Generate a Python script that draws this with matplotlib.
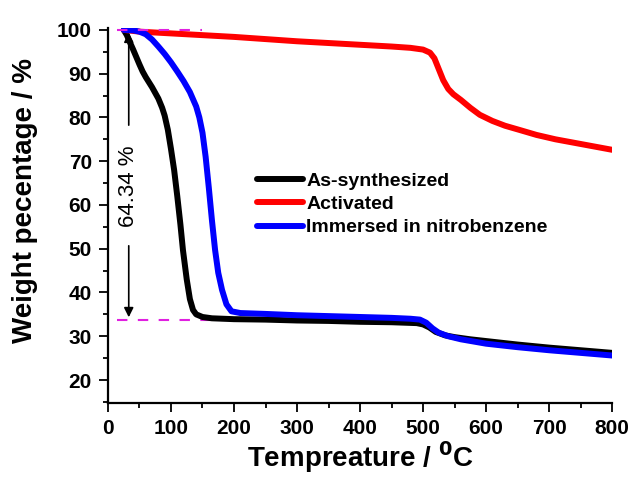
import matplotlib
matplotlib.use("Agg")
import matplotlib.pyplot as plt
from matplotlib.ticker import MultipleLocator

plt.rcParams["font.family"] = ["Liberation Sans", "DejaVu Sans"]
plt.rcParams["font.weight"] = "bold"

# As-synthesized
temp_as = [25, 30, 35, 40, 45, 50, 55, 60, 70, 80, 86, 90, 95, 100, 105, 110, 115, 119,
           125, 130, 135, 140, 150, 165, 200, 250, 300, 350, 400, 450, 490, 500, 510,
           520, 535, 550, 575, 600, 650, 700, 750, 800]
wt_as = [100, 98.8, 97.1, 95.5, 93.8, 92.1, 90.5, 89.2, 86.9, 84.3, 82.2, 80.4, 77.2, 72.8,
         68.0, 62.0, 55.5, 49.7, 43.0, 38.5, 36.0, 35.0, 34.4, 34.1, 33.9, 33.8, 33.6, 33.5,
         33.3, 33.2, 33.0, 32.7, 32.0, 31.0, 30.2, 29.8, 29.3, 28.9, 28.1, 27.4, 26.8, 26.2]

# Activated
temp_act = [25, 50, 100, 150, 200, 250, 300, 350, 400, 450, 480, 500, 511, 518, 525, 532,
            540, 548, 560, 575, 590, 610, 630, 654, 680, 710, 740, 770, 800]
wt_act = [100, 99.6, 99.2, 98.8, 98.4, 97.9, 97.4, 97.0, 96.6, 96.2, 95.9, 95.5, 94.8, 93.5,
          91.0, 88.5, 86.5, 85.3, 84.0, 82.2, 80.6, 79.2, 78.1, 77.1, 76.0, 75.0, 74.2, 73.4, 72.6]

# Immersed in nitrobenzene
temp_nb = [25, 40, 50, 60, 70, 80, 90, 100, 110, 120, 130, 140, 145, 150, 155, 160, 165,
           170, 175, 181, 188, 196, 210, 250, 300, 350, 400, 450, 480, 495, 505, 515, 525,
           540, 560, 600, 650, 700, 750, 800]
wt_nb = [100, 99.9, 99.6, 99.0, 97.8, 96.2, 94.5, 92.6, 90.5, 88.3, 85.8, 82.5, 80.0, 76.5,
         71.0, 64.0, 56.5, 49.7, 44.5, 40.6, 37.3, 35.7, 35.3, 35.1, 34.8, 34.6, 34.4, 34.2,
         34.0, 33.8, 33.1, 31.8, 30.8, 30.0, 29.3, 28.3, 27.5, 26.8, 26.2, 25.6]

loss_label = "64.34 %"
top_level = 100
bottom_level = 33.7

fig = plt.figure(figsize=(6.35, 4.79), dpi=100)
ax = fig.add_axes([0.170, 0.1587, 0.794, 0.783])

ax.plot(temp_as, wt_as, color="black", lw=4.3, label="As-synthesized", solid_capstyle="round")
ax.plot(temp_act, wt_act, color="#ff0000", lw=4.3, label="Activated", solid_capstyle="round")
ax.plot(temp_nb, wt_nb, color="#0000ff", lw=4.3, label="Immersed in nitrobenzene",
        solid_capstyle="round")

# dashed guide lines for the mass loss
ax.plot([15, 150], [top_level, top_level], color="#e020e0", lw=1.5, ls=(0, (5, 5)), zorder=5)
ax.plot([15, 185], [bottom_level, bottom_level], color="#e020e0", lw=1.5, ls=(0, (5, 5)), zorder=1)

# double arrow with the loss value in the middle
x_arr = 33
ax.annotate("", xy=(x_arr, top_level), xytext=(x_arr, 77.6),
            arrowprops=dict(arrowstyle="-|>", color="black", lw=1.2, mutation_scale=14))
ax.annotate("", xy=(x_arr, bottom_level), xytext=(x_arr, 51.3),
            arrowprops=dict(arrowstyle="-|>", color="black", lw=1.2, mutation_scale=14))
ax.text(x_arr, 64.2, loss_label, rotation=90, ha="center", va="center", fontsize=16,
        fontweight="normal")

ax.set_xlim(0, 800)
ax.set_ylim(14.75, 100.45)
ax.xaxis.set_major_locator(MultipleLocator(100))
ax.xaxis.set_minor_locator(MultipleLocator(50))
ax.yaxis.set_major_locator(MultipleLocator(10))
ax.yaxis.set_minor_locator(MultipleLocator(5))
ax.set_yticks(range(20, 101, 10))

ax.spines["top"].set_visible(False)
ax.spines["right"].set_visible(False)
ax.spines["left"].set_linewidth(1.6)
ax.spines["bottom"].set_linewidth(1.6)
ax.tick_params(which="major", direction="out", length=6.5, width=1.3, labelsize=15, pad=5)
ax.tick_params(which="minor", direction="out", length=3.6, width=1.3)

ax.set_xlabel("Tempreature / $^{\\mathbf{0}}$C", fontsize=20, fontweight="bold", labelpad=1)
ax.set_ylabel("Weight pecentage / %", fontsize=20, fontweight="bold")
ax.yaxis.set_label_coords(-0.138, 0.54)

ax.legend(loc="upper left", bbox_to_anchor=(0.276, 0.642), frameon=False, fontsize=14,
          handlelength=2.4, handletextpad=0.15, labelspacing=0.3, borderpad=0)

fig.savefig("out.png", dpi=100)
